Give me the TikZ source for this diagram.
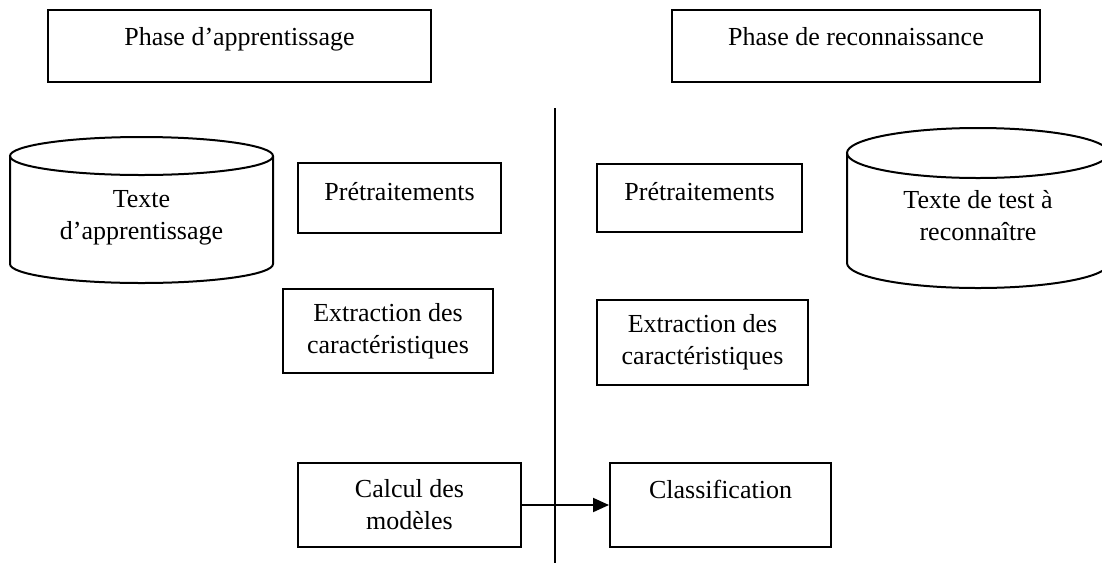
\documentclass[tikz,border=0pt]{standalone}
\usepackage{fontspec}
\setmainfont{Liberation Serif}
\usetikzlibrary{positioning,arrows.meta}

\begin{document}
\begin{tikzpicture}[x=1pt, y=-1pt, every node/.style={font=\fontsize{26}{32}\selectfont},
                    box/.style={draw, line width=2pt, inner sep=0pt, align=center},
                    topbox/.style={box, anchor=base},
                    drum/.style={draw, line width=2pt}]
        \useasboundingbox (0,0) rectangle (1102,563);

        % phases
        \node (phase1) [topbox, minimum width=383pt, text height=35pt, text depth=37pt] at (239.5,45) {Phase d’apprentissage};
        \node (phase2) [topbox, minimum width=368pt, text height=35pt, text depth=37pt] at (856,45) {Phase de reconnaissance};

        % bases de textes
        \draw[drum] (10,156) -- (10,264) arc[start angle=180, end angle=0, x radius=131.5, y radius=19] -- (273,156);
        \draw[drum] (141.5,156) ellipse [x radius=131.5, y radius=19];
        \node (apprent) [align=center] at (141.5,218) {Texte\\d’apprentissage};

        \draw[drum] (847,153) -- (847,263) arc[start angle=180, end angle=0, x radius=131, y radius=25] -- (1109,153);
        \draw[drum] (978,153) ellipse [x radius=131, y radius=25];
        \node (test) [align=center] at (978,216) {Texte de test à\\reconnaître};

        % apprentissage
        \node (pretr1) [topbox, minimum width=203pt, text height=37pt, text depth=33pt] at (399.5,200) {Prétraitements};
        \node (extr1) [box, minimum width=210pt, minimum height=84pt] at (388,331) {Extraction des\\caractéristiques};
        \node (calcul) [box, minimum width=223pt, minimum height=84pt] at (409.5,505) {Calcul des\\modèles};

        % reconnaissance
        \node (pretr2) [topbox, minimum width=205pt, text height=36pt, text depth=32pt] at (699.5,200) {Prétraitements};
        \node (extr2) [box, minimum width=211pt, minimum height=85pt] at (702.5,342.5) {Extraction des\\caractéristiques};
        \node (classif) [topbox, minimum width=221pt, text height=35pt, text depth=49pt] at (720.5,498) {Classification};

        \coordinate (sep_top) at (555,108);
        \coordinate (sep_bot) at (555,563);

        \draw[line width=1.5pt] (sep_top) -- (sep_bot);
        \draw[-{Triangle[length=16pt, width=14pt]}, line width=2pt] (calcul.east) -- (classif.west);
    \end{tikzpicture}
\end{document}
